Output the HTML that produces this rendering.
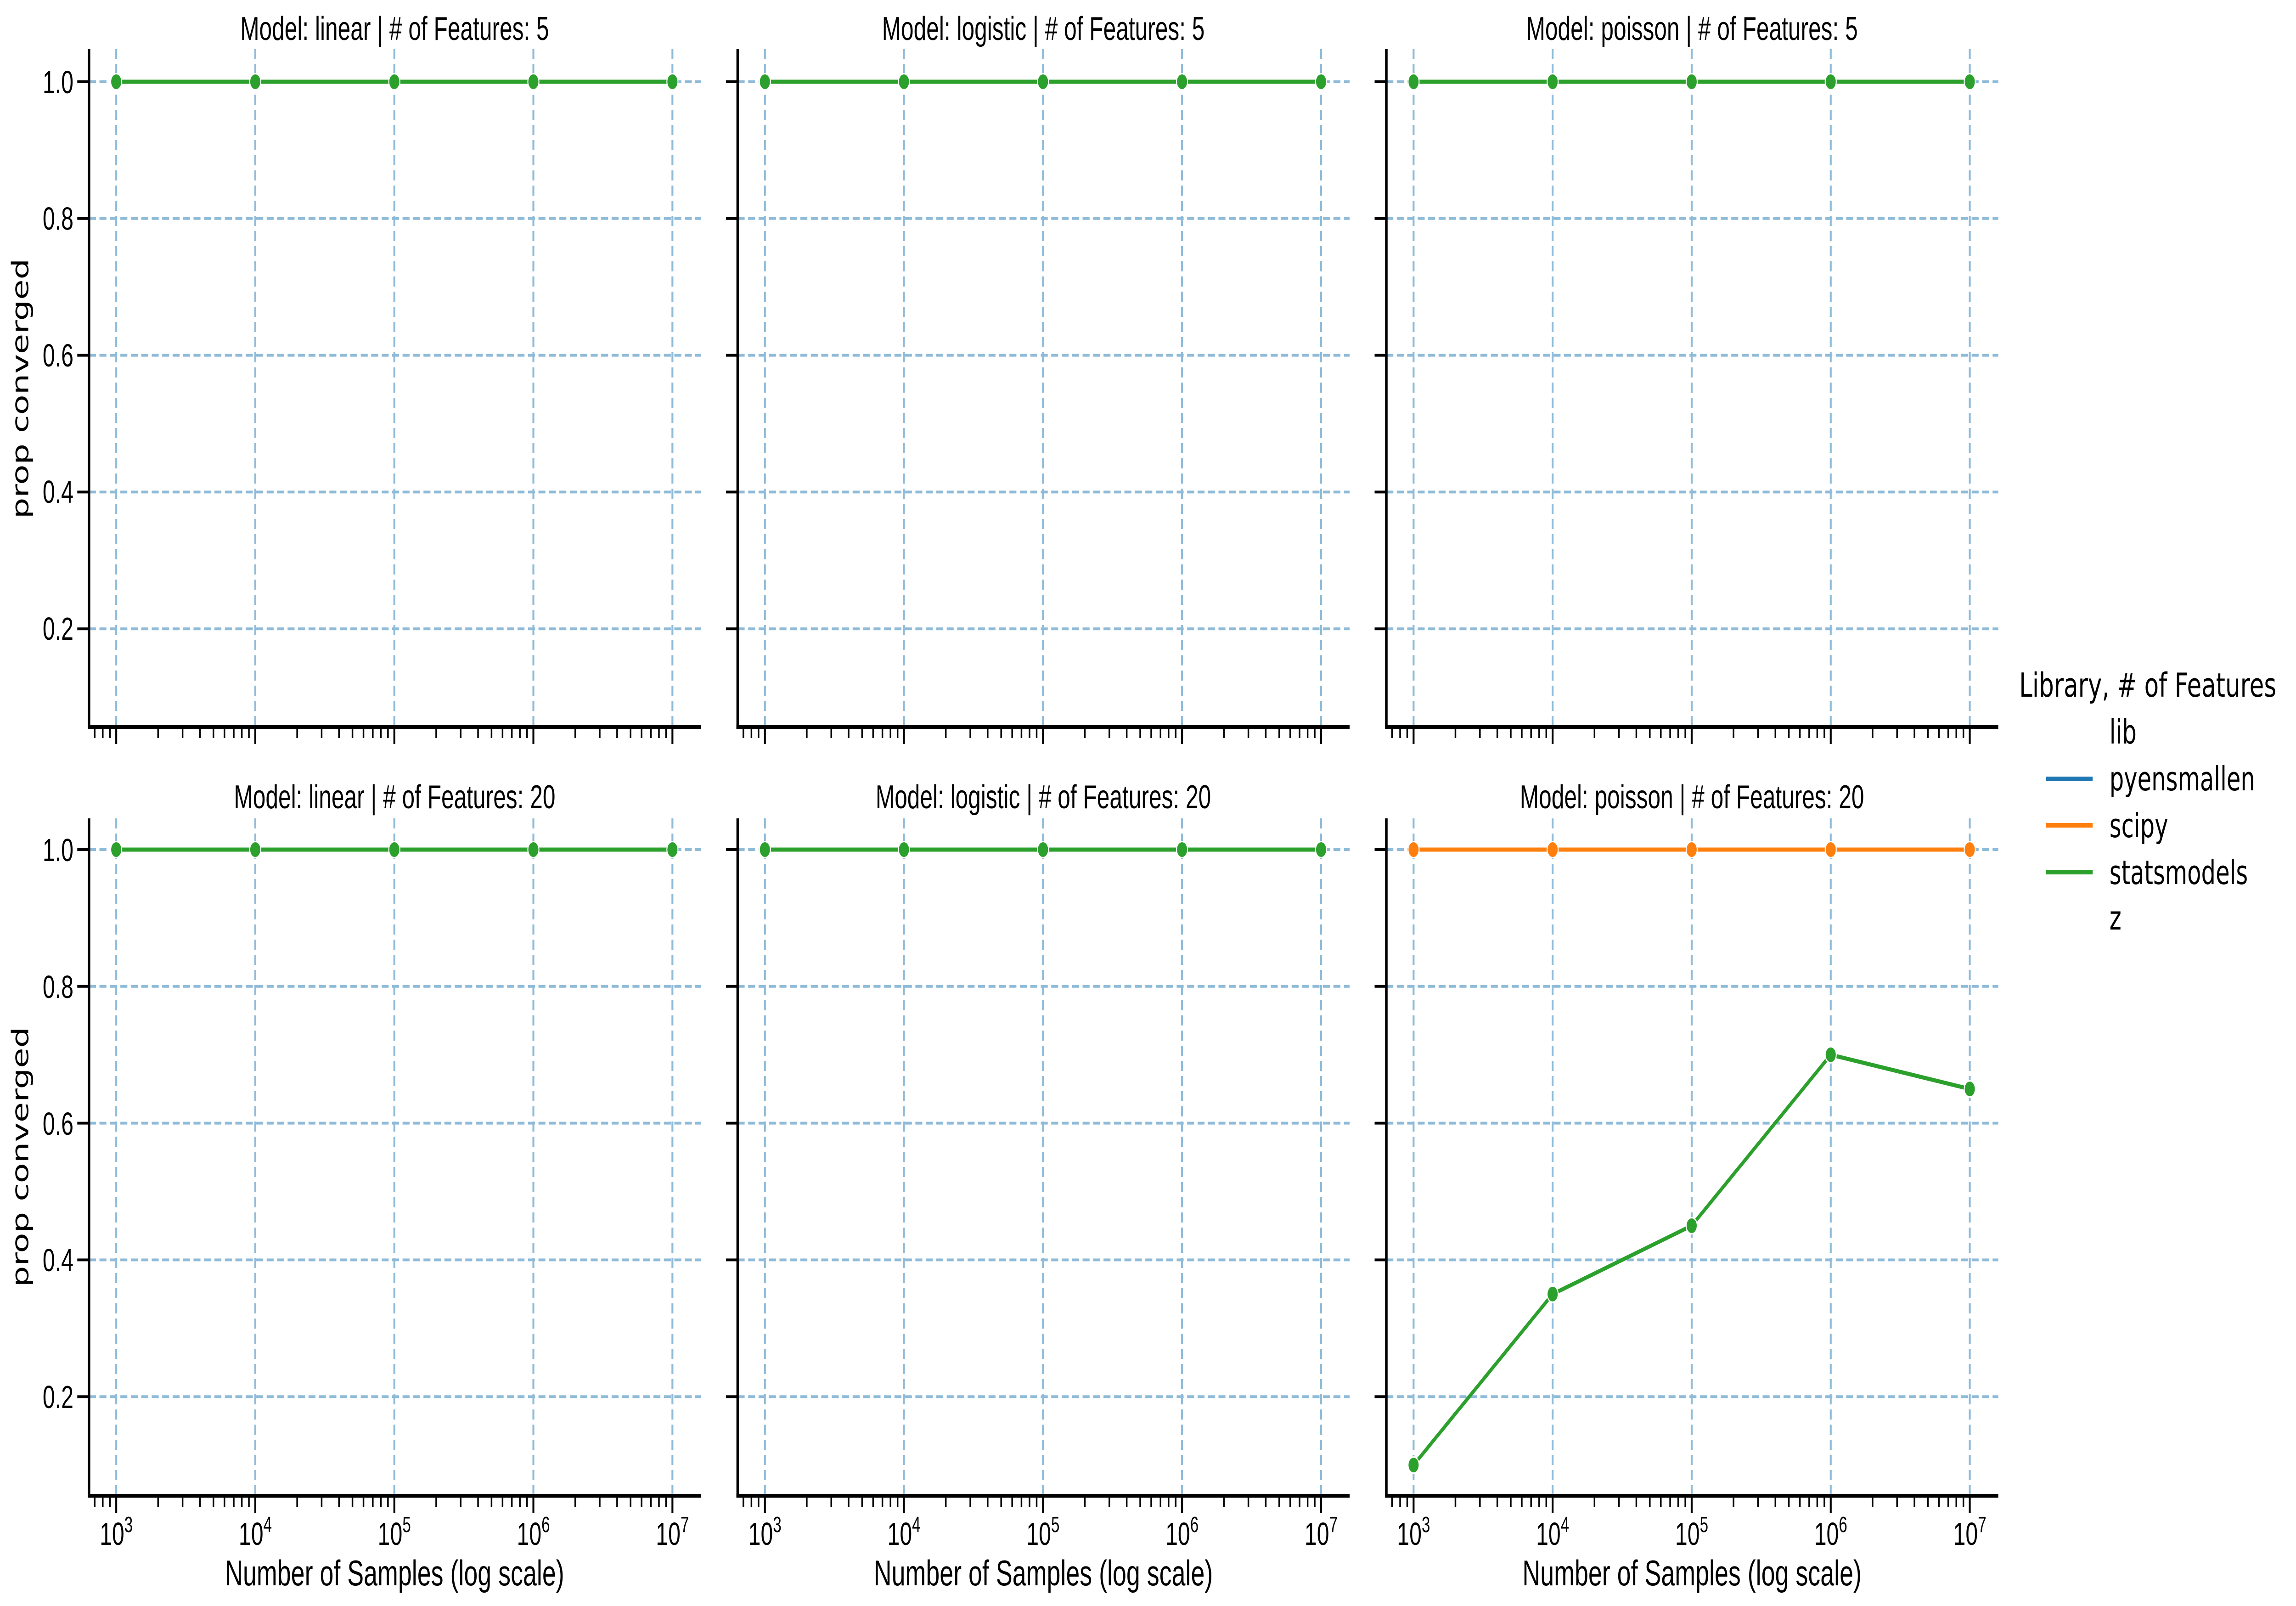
<!DOCTYPE html>
<html><head><meta charset="utf-8"><style>
html,body{margin:0;padding:0;background:#fff;overflow:hidden;width:100%;height:100%}
svg{display:block;position:absolute;left:0;top:0;width:100vw;height:100vh}
.t{font-family:"Liberation Sans",sans-serif;fill:#000}
.d{font-family:"DejaVu Sans","Liberation Sans",sans-serif;fill:#000}
</style></head><body>
<svg id="s" xmlns="http://www.w3.org/2000/svg" viewBox="0 0 7249 3497" preserveAspectRatio="none">
<rect width="7249" height="3497" fill="#fff"/>
<g id="geo"></g>
<g class="t" font-size="72" text-anchor="middle">
<text x="1246" y="87">Model: linear | # of Features: 5</text>
<text x="3294" y="87">Model: logistic | # of Features: 5</text>
<text x="5342" y="87">Model: poisson | # of Features: 5</text>
<text x="1246" y="1760">Model: linear | # of Features: 20</text>
<text x="3294" y="1760">Model: logistic | # of Features: 20</text>
<text x="5342" y="1760">Model: poisson | # of Features: 20</text>
</g>
<g class="t" font-size="70" text-anchor="end">
<text x="232" y="203">1.0</text>
<text x="232" y="500">0.8</text>
<text x="232" y="798">0.6</text>
<text x="232" y="1095">0.4</text>
<text x="232" y="1393">0.2</text>
<text x="232" y="1875">1.0</text>
<text x="232" y="2173">0.8</text>
<text x="232" y="2471">0.6</text>
<text x="232" y="2768">0.4</text>
<text x="232" y="3066">0.2</text>
</g>
<g class="d" font-size="72" text-anchor="middle">
<text transform="translate(89,846) rotate(-90)">prop converged</text>
<text transform="translate(89,2519) rotate(-90)">prop converged</text>
</g>
<g class="t" font-size="70" text-anchor="middle">
<text x="367" y="3364">10<tspan font-size="48" dy="-28">3</tspan></text>
<text x="806" y="3364">10<tspan font-size="48" dy="-28">4</tspan></text>
<text x="1245" y="3364">10<tspan font-size="48" dy="-28">5</tspan></text>
<text x="1684" y="3364">10<tspan font-size="48" dy="-28">6</tspan></text>
<text x="2123" y="3364">10<tspan font-size="48" dy="-28">7</tspan></text>
<text x="2415" y="3364">10<tspan font-size="48" dy="-28">3</tspan></text>
<text x="2854" y="3364">10<tspan font-size="48" dy="-28">4</tspan></text>
<text x="3293" y="3364">10<tspan font-size="48" dy="-28">5</tspan></text>
<text x="3732" y="3364">10<tspan font-size="48" dy="-28">6</tspan></text>
<text x="4171" y="3364">10<tspan font-size="48" dy="-28">7</tspan></text>
<text x="4463" y="3364">10<tspan font-size="48" dy="-28">3</tspan></text>
<text x="4902" y="3364">10<tspan font-size="48" dy="-28">4</tspan></text>
<text x="5341" y="3364">10<tspan font-size="48" dy="-28">5</tspan></text>
<text x="5780" y="3364">10<tspan font-size="48" dy="-28">6</tspan></text>
<text x="6219" y="3364">10<tspan font-size="48" dy="-28">7</tspan></text>
</g>
<g class="t" font-size="78" text-anchor="middle">
<text x="1246" y="3452">Number of Samples (log scale)</text>
<text x="3294" y="3452">Number of Samples (log scale)</text>
<text x="5342" y="3452">Number of Samples (log scale)</text>
</g>
<g class="d" font-size="72">
<text x="6375" y="1517" textLength="812" lengthAdjust="spacingAndGlyphs">Library, # of Features</text>
<text x="6660" y="1619">lib</text>
<text x="6660" y="1721">pyensmallen</text>
<text x="6660" y="1823">scipy</text>
<text x="6660" y="1925">statsmodels</text>
<text x="6660" y="2024">z</text>
</g>
<g stroke-width="10">
<line x1="6460" y1="1696" x2="6607" y2="1696" stroke="#1f77b4"/>
<line x1="6460" y1="1797" x2="6607" y2="1797" stroke="#ff7f0e"/>
<line x1="6460" y1="1899" x2="6607" y2="1899" stroke="#2ca02c"/>
</g>
</svg>
<script>
(function(){
var NS="http://www.w3.org/2000/svg",g=document.getElementById("geo");
function el(n,a){var e=document.createElementNS(NS,n);for(var k in a)e.setAttribute(k,a[k]);g.appendChild(e);return e;}
var rows=[{y1:178,top:107,bot:1583},{y1:1850,top:1782,bot:3257}];
var per=1489;
var green="#2ca02c",orange="#ff7f0e",grid="#8fbbd9";
for(var r=0;r<2;r++){
 var R=rows[r];
 function Y(v){return R.y1+(1-v)*per;}
 for(var p=0;p<3;p++){
  var L=281+p*2048, Rt=2213+p*2048, x3=367+p*2048;
  function X(lg){return x3+(lg-3)*439;}
  for(var k=1;k<=5;k++){var yy=Y(k*0.2);el("line",{x1:L,y1:yy,x2:Rt,y2:yy,stroke:grid,"stroke-width":6,"stroke-dasharray":"22,11"});}
  for(var d=3;d<=7;d++){var xx=X(d);el("line",{x1:xx,y1:R.top,x2:xx,y2:R.bot,stroke:grid,"stroke-width":6,"stroke-dasharray":"22,11"});}
  el("line",{x1:L,y1:R.top,x2:L,y2:R.bot+4,stroke:"#000","stroke-width":8});
  el("line",{x1:L-4,y1:R.bot,x2:Rt,y2:R.bot,stroke:"#000","stroke-width":8});
  for(var k=1;k<=5;k++){var yy=Y(k*0.2);el("line",{x1:L-37,y1:yy,x2:L,y2:yy,stroke:"#000","stroke-width":6});}
  for(var d=2;d<=7;d++){
   if(d>=3){var xx=X(d);el("line",{x1:xx,y1:R.bot,x2:xx,y2:R.bot+37,stroke:"#000","stroke-width":6});}
   for(var m=2;m<=9;m++){var lg=d+Math.log10(m);var xx=X(lg);if(xx>L+2&&xx<Rt-2)el("line",{x1:xx,y1:R.bot,x2:xx,y2:R.bot+24,stroke:"#000","stroke-width":5});}
  }
  var series=[];
  if(r==1&&p==2){series=[{c:green,v:[0.1,0.35,0.45,0.7,0.65]},{c:orange,v:[1,1,1,1,1]}];}
  else series=[{c:green,v:[1,1,1,1,1]}];
  series.forEach(function(s){
   var pts=s.v.map(function(v,i){return X(3+i)+","+Y(v);}).join(" ");
   el("polyline",{points:pts,fill:"none",stroke:s.c,"stroke-width":9,"stroke-linejoin":"round"});
   s.v.forEach(function(v,i){el("circle",{cx:X(3+i),cy:Y(v),r:17.5,fill:s.c,stroke:"#fff","stroke-width":3});});
  });
 }
}
})();
</script>
</body></html>
